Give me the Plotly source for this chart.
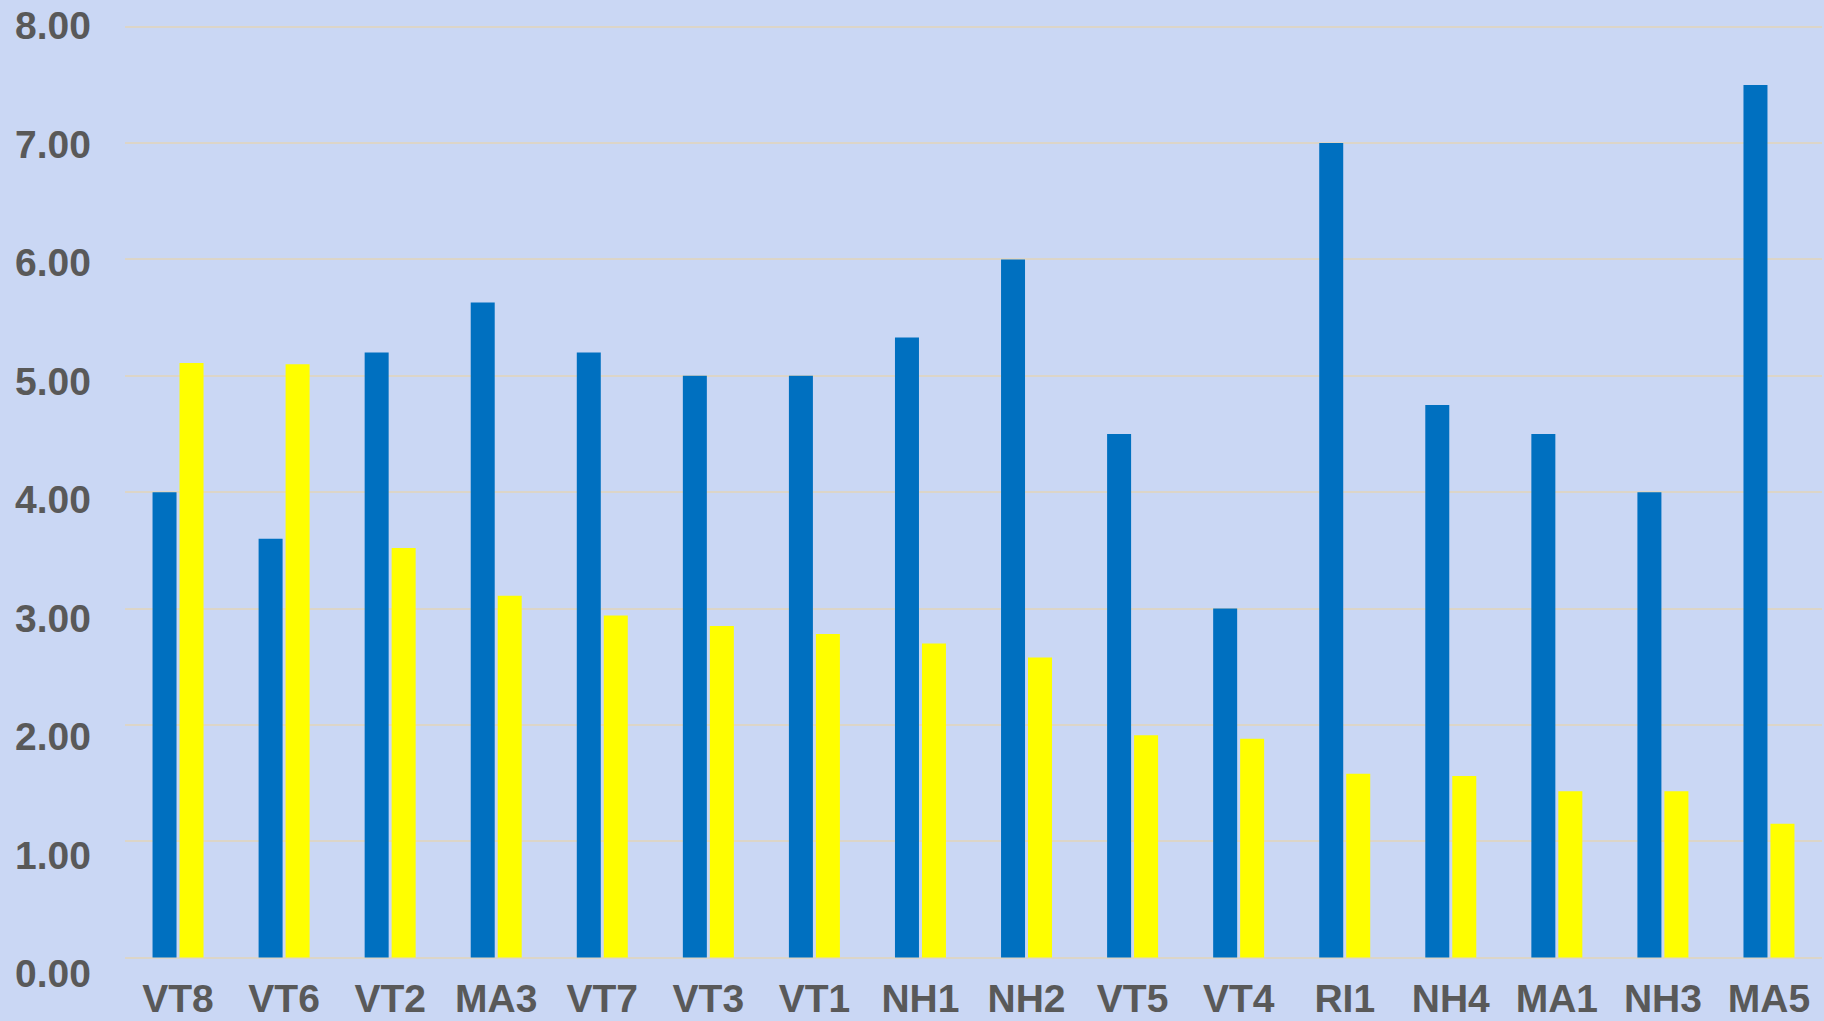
import plotly.graph_objects as go

# Sites along the x axis
sites = ["VT8", "VT6", "VT2", "MA3", "VT7", "VT3", "VT1", "NH1",
         "NH2", "VT5", "VT4", "RI1", "NH4", "MA1", "NH3", "MA5"]

# Two measured series per site
series_a = [4.00, 3.60, 5.20, 5.63, 5.20, 5.00, 5.00, 5.33,
            6.00, 4.50, 3.00, 7.00, 4.75, 4.50, 4.00, 7.50]
series_b = [5.11, 5.10, 3.52, 3.11, 2.94, 2.85, 2.78, 2.70,
            2.58, 1.91, 1.88, 1.58, 1.56, 1.43, 1.43, 1.15]

# Value-axis tick labels
tick_vals = [0, 1, 2, 3, 4, 5, 6, 7, 8]
tick_text = ["0.00", "1.00", "2.00", "3.00", "4.00", "5.00", "6.00", "7.00", "8.00"]

BLUE = "#0070C0"
YELLOW = "#FFFF00"
TEXT = "#595959"
GRID = "#dcd5c8"
BG = "#cad7f4"
FONT = "Liberation Sans, Arial, sans-serif"

fig = go.Figure()
fig.add_trace(go.Bar(x=sites, y=series_a, name="Series A",
                     marker=dict(color=BLUE, line=dict(width=0))))
fig.add_trace(go.Bar(x=sites, y=series_b, name="Series B",
                     marker=dict(color=YELLOW, line=dict(width=0))))

# label-only axis sharing the plot area
fig.add_trace(go.Scatter(x=[sites[0]], y=[None], yaxis="y2",
                         mode="lines", showlegend=False, hoverinfo="skip"))

fig.update_layout(
    width=1824, height=1021,
    margin=dict(l=125, r=2, t=15, b=46),
    paper_bgcolor=BG, plot_bgcolor=BG,
    barmode="group", bargap=0.491, bargroupgap=0.111,
    showlegend=False,
    font=dict(family=FONT, color=TEXT, size=39),
    xaxis=dict(
        type="category", range=[-0.5, 15.5], automargin=False,
        showgrid=False, zeroline=False, showline=False,
        ticks="", ticklabelstandoff=-3,
        tickfont=dict(family=FONT, size=39, color=TEXT, weight="bold"),
    ),
    yaxis=dict(
        range=[-0.1495, 8.1007], automargin=False,
        tickvals=tick_vals,
        showticklabels=False,
        showgrid=True, gridcolor=GRID, gridwidth=1.5,
        zeroline=False, showline=False, ticks="",
    ),
    yaxis2=dict(
        overlaying="y", side="left", automargin=False,
        range=[-0.011, 8.091],
        tickvals=tick_vals, ticktext=tick_text,
        showgrid=False, zeroline=False, showline=False, ticks="",
        ticklabelstandoff=33,
        tickfont=dict(family=FONT, size=39, color=TEXT, weight="bold"),
    ),
)

fig.write_html("out.html")
